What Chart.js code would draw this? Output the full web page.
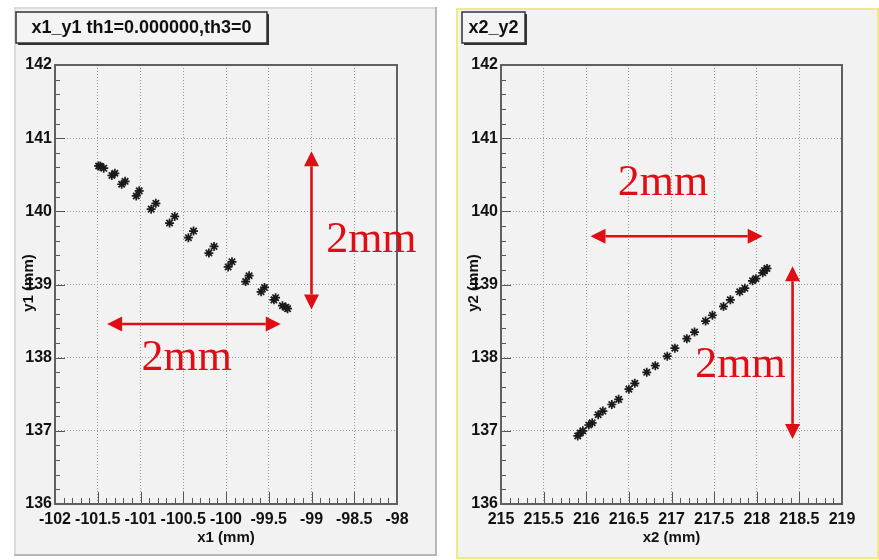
<!DOCTYPE html>
<html>
<head>
<meta charset="utf-8">
<script src="https://cdn.jsdelivr.net/npm/chart.js@4"></script>
<style>
body { margin: 0; background: #fff; width: 879px; height: 560px; position: relative; overflow: hidden; }
canvas { position: absolute; top: 0; }
</style>
</head>
<body>
<canvas id="left" width="440" height="560" style="left:0"></canvas>
<canvas id="right" width="439" height="560" style="left:440px"></canvas>
<script>
// points
const x1 = [-101.49, -101.47, -101.43, -101.335, -101.30, -101.22, -101.18, -101.05, -101.015, -100.875,
            -100.82, -100.66, -100.60, -100.44, -100.38, -100.20, -100.14, -99.975, -99.93, -99.77,
            -99.73, -99.59, -99.55, -99.44, -99.42, -99.34, -99.30, -99.28];
const y1 = [140.62, 140.615, 140.59, 140.49, 140.52, 140.37, 140.41, 140.21, 140.28, 140.03,
            140.11, 139.84, 139.93, 139.64, 139.73, 139.43, 139.52, 139.24, 139.31, 139.04,
            139.12, 138.90, 138.96, 138.79, 138.82, 138.71, 138.69, 138.67];

const x2 = [215.90, 215.93, 215.96, 216.03, 216.07, 216.14, 216.195, 216.30, 216.38, 216.50,
            216.57, 216.71, 216.81, 216.95, 217.04, 217.18, 217.27, 217.40, 217.48, 217.61,
            217.69, 217.80, 217.86, 217.95, 217.99, 218.07, 218.09, 218.12];
const y2 = [136.93, 136.97, 137.00, 137.08, 137.11, 137.22, 137.27, 137.36, 137.43, 137.57,
            137.65, 137.80, 137.89, 138.02, 138.13, 138.26, 138.35, 138.50, 138.58, 138.70,
            138.79, 138.90, 138.95, 139.05, 139.08, 139.16, 139.19, 139.22];

const xTicks1 = [-102, -101.5, -101, -100.5, -100, -99.5, -99, -98.5, -98];
const xTicks2 = [215, 215.5, 216, 216.5, 217, 217.5, 218, 218.5, 219];
const yTicks = [136, 137, 138, 139, 140, 141, 142];

const RED = "#e00d14";

function drawArrow(c, ax, ay, bx, by) {
    const ang = Math.atan2(by - ay, bx - ax);
    const len = 15, half = 7.5;
    const cos = Math.cos(ang), sin = Math.sin(ang);
    c.strokeStyle = RED;
    c.fillStyle = RED;
    c.lineWidth = 2.6;
    c.beginPath();
    c.moveTo(ax + cos * len, ay + sin * len);
    c.lineTo(bx - cos * len, by - sin * len);
    c.stroke();
    [[ax, ay, 1], [bx, by, -1]].forEach(([px, py, d]) => {
        const bxp = px + d * cos * len, byp = py + d * sin * len;
        c.beginPath();
        c.moveTo(px, py);
        c.lineTo(bxp - sin * half, byp + cos * half);
        c.lineTo(bxp + sin * half, byp - cos * half);
        c.closePath();
        c.fill();
    });
}

function decor(o) {
    return {
        id: "decor",
        beforeDraw(chart) {
            const c = chart.ctx, p = o.panel;
            c.save();
            c.fillStyle = "#fff";
            c.fillRect(0, 0, chart.width, chart.height);
            c.fillStyle = "#f2f2f2";
            c.fillRect(p.x, p.y, p.w, p.h);
            c.lineWidth = 2;
            c.strokeStyle = o.edge;
            c.strokeRect(p.x + 1, p.y + 1, p.w - 2, p.h - 2);
            if (o.shade) {
                c.strokeStyle = "#b8b8b8";
                c.beginPath();
                c.moveTo(p.x + p.w - 1, p.y);
                c.lineTo(p.x + p.w - 1, p.y + p.h - 1);
                c.lineTo(p.x, p.y + p.h - 1);
                c.stroke();
            }
            c.restore();
        },
        afterDatasetsDraw(chart) {
            const c = chart.ctx, a = chart.chartArea;
            const xs = chart.scales.x, ys = chart.scales.y;
            c.save();

            // minor / major ticks inside the frame
            c.strokeStyle = "#555";
            c.lineWidth = 1;
            c.beginPath();
            for (let i = 0; i <= 40; i++) {
                const px = Math.round(xs.getPixelForValue(xs.min + i * 0.1)) + 0.5;
                const l = i % 5 === 0 ? 12 : 6;
                c.moveTo(px, a.bottom);
                c.lineTo(px, a.bottom - l);
            }
            for (let i = 0; i <= 30; i++) {
                const py = Math.round(ys.getPixelForValue(ys.min + i * 0.2)) + 0.5;
                const l = i % 5 === 0 ? 10 : 5;
                c.moveTo(a.left, py);
                c.lineTo(a.left + l, py);
            }
            c.stroke();

            // frame
            c.strokeStyle = "#606060";
            c.lineWidth = 2;
            c.strokeRect(a.left, a.top, a.right - a.left, a.bottom - a.top);

            // arrows and labels
            o.arrows.forEach(r => drawArrow(c,
                xs.getPixelForValue(r[0]), ys.getPixelForValue(r[1]),
                xs.getPixelForValue(r[2]), ys.getPixelForValue(r[3])));
            c.fillStyle = RED;
            c.font = "44px 'Liberation Serif', 'DejaVu Serif', serif";
            c.textAlign = "center";
            c.textBaseline = "alphabetic";
            o.notes.forEach(n => c.fillText("2mm", xs.getPixelForValue(n[0]), ys.getPixelForValue(n[1])));

            // axis titles
            c.fillStyle = "#111";
            c.font = "bold 15px 'Liberation Sans', Arial, sans-serif";
            c.textBaseline = "middle";
            c.fillText(o.xTitle, (a.left + a.right) / 2, 538);
            c.save();
            c.translate(o.yTitleX, 283);
            c.rotate(-Math.PI / 2);
            c.fillText(o.yTitle, 0, 0);
            c.restore();

            // title box
            const t = o.titleBox;
            c.fillStyle = "#f4f4f4";
            c.fillRect(t.x, t.y, t.w, t.h);
            c.strokeStyle = "#333";
            c.lineWidth = 1.5;
            c.strokeRect(t.x, t.y, t.w, t.h);
            c.lineWidth = 2;
            c.beginPath();
            c.moveTo(t.x + t.w + 1, t.y + 2);
            c.lineTo(t.x + t.w + 1, t.y + t.h + 1);
            c.lineTo(t.x + 2, t.y + t.h + 1);
            c.stroke();
            c.fillStyle = "#111";
            c.font = "bold 18px 'Liberation Sans', Arial, sans-serif";
            c.fillText(o.title, t.x + t.w / 2, t.y + t.h / 2 + 1);
            c.restore();
        }
    };
}

function makeChart(id, xs, ys, xTicks, o) {
    const tickFont = { family: "'Liberation Sans', Arial, sans-serif", size: 16, weight: "bold" };
    return new Chart(document.getElementById(id), {
        type: "scatter",
        data: {
            datasets: [{
                data: xs.map((v, i) => ({ x: v, y: ys[i] })),
                pointStyle: "star",
                radius: 4.5,
                borderColor: "#1a1a1a",
                borderWidth: 1.7,
                backgroundColor: "#1a1a1a"
            }]
        },
        options: {
            responsive: false,
            animation: false,
            devicePixelRatio: 1,
            layout: { padding: o.pad },
            plugins: { legend: { display: false }, tooltip: { enabled: false } },
            scales: {
                x: {
                    type: "linear",
                    min: xTicks[0],
                    max: xTicks[xTicks.length - 1],
                    afterBuildTicks: s => { s.ticks = xTicks.map(v => ({ value: v })); },
                    afterFit: s => { s.height = 56; },
                    grid: { color: "#959595", drawTicks: false, lineWidth: 1 },
                    border: { display: false, dash: [1, 2] },
                    ticks: { color: "#111", font: tickFont, padding: 6, maxRotation: 0, autoSkip: false, callback: v => String(v) }
                },
                y: {
                    type: "linear",
                    min: yTicks[0],
                    max: yTicks[yTicks.length - 1],
                    afterBuildTicks: s => { s.ticks = yTicks.map(v => ({ value: v })); },
                    afterFit: s => { s.width = 40; },
                    grid: { color: "#959595", drawTicks: false, lineWidth: 1 },
                    border: { display: false, dash: [1, 2] },
                    ticks: { color: "#111", font: tickFont, padding: 3, autoSkip: false, callback: v => String(v) }
                }
            }
        },
        plugins: [decor(o)]
    });
}

makeChart("left", x1, y1, xTicks1, {
    pad: { left: 15, top: 65, right: 43, bottom: 0 },
    panel: { x: 14, y: 7, w: 423, h: 549 },
    edge: "#dcdcdc",
    shade: true,
    titleBox: { x: 16, y: 12, w: 251, h: 31 },
    title: "x1_y1 th1=0.000000,th3=0",
    xTitle: "x1 (mm)",
    yTitle: "y1 (mm)",
    yTitleX: 29,
    arrows: [[-99.0, 138.66, -99.0, 140.82], [-101.39, 138.46, -99.36, 138.46]],
    notes: [[-98.30, 139.44], [-100.46, 137.83]]
});

makeChart("right", x2, y2, xTicks2, {
    pad: { left: 21, top: 65, right: 37, bottom: 0 },
    panel: { x: 16, y: 8, w: 423, h: 551 },
    edge: "#efe98a",
    shade: false,
    titleBox: { x: 22, y: 12, w: 63, h: 31 },
    title: "x2_y2",
    xTitle: "x2 (mm)",
    yTitle: "y2 (mm)",
    yTitleX: 34,
    arrows: [[216.05, 139.66, 218.07, 139.66], [218.42, 139.25, 218.42, 136.89]],
    notes: [[216.90, 140.22], [217.81, 137.74]]
});
</script>
</body>
</html>
